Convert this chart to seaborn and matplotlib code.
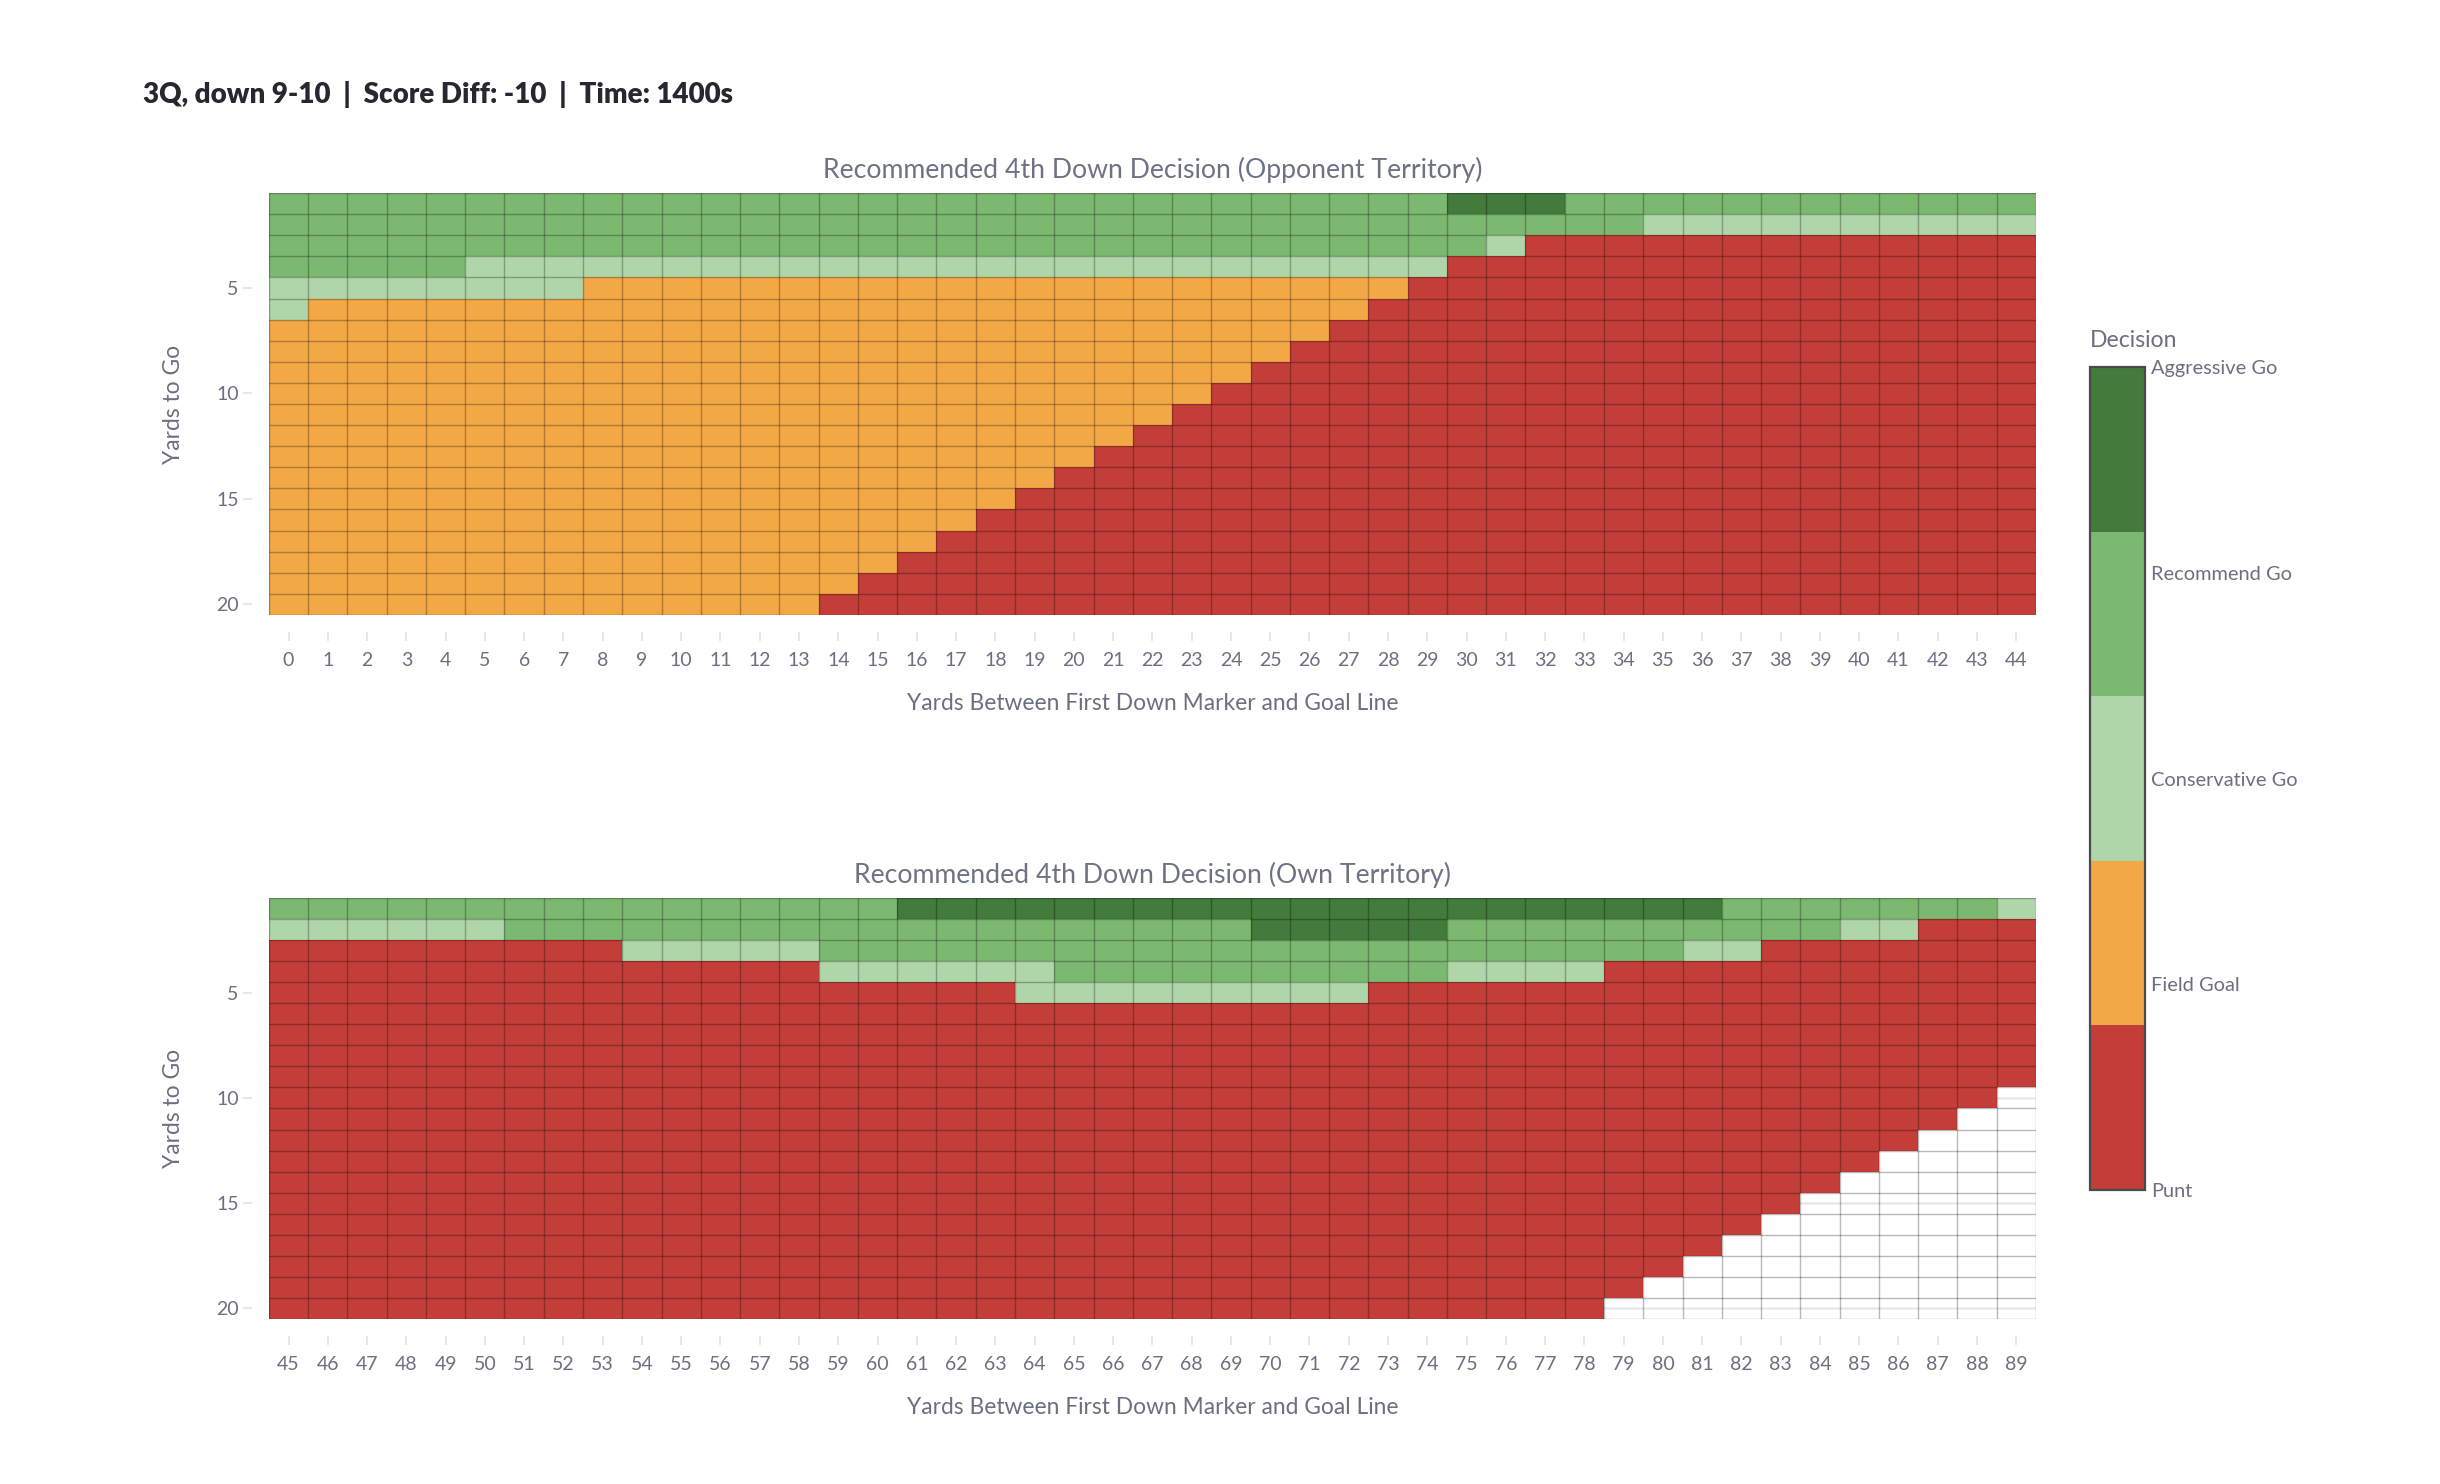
import matplotlib
matplotlib.use('Agg')
import matplotlib.pyplot as plt
from matplotlib.colors import ListedColormap
import numpy as np
import pandas as pd
import seaborn as sns

# Decision codes, one string per "yards to go" row
# P = Punt, F = Field Goal, C = Conservative Go, R = Recommend Go, A = Aggressive Go, . = no value
decision_names = ['Punt', 'Field Goal', 'Conservative Go', 'Recommend Go', 'Aggressive Go']
decision_codes = ['P', 'F', 'C', 'R', 'A']
decision_colors = ['#c33e38', '#f2a845', '#afd6a8', '#7bb870', '#427b3b']

yards_to_go = list(range(1, 21))
opp_yards = list(range(0, 45))
own_yards = list(range(45, 90))

opp_rows = [
    'R' * 30 + 'A' * 3 + 'R' * 12,
    'R' * 35 + 'C' * 10,
    'R' * 31 + 'C' * 1 + 'P' * 13,
    'R' * 5 + 'C' * 25 + 'P' * 15,
    'C' * 8 + 'F' * 21 + 'P' * 16,
    'C' * 1 + 'F' * 27 + 'P' * 17,
    'F' * 27 + 'P' * 18,
    'F' * 26 + 'P' * 19,
    'F' * 25 + 'P' * 20,
    'F' * 24 + 'P' * 21,
    'F' * 23 + 'P' * 22,
    'F' * 22 + 'P' * 23,
    'F' * 21 + 'P' * 24,
    'F' * 20 + 'P' * 25,
    'F' * 19 + 'P' * 26,
    'F' * 18 + 'P' * 27,
    'F' * 17 + 'P' * 28,
    'F' * 16 + 'P' * 29,
    'F' * 15 + 'P' * 30,
    'F' * 14 + 'P' * 31,
]

own_rows = [
    'R' * 16 + 'A' * 21 + 'R' * 7 + 'C' * 1,
    'C' * 6 + 'R' * 19 + 'A' * 5 + 'R' * 10 + 'C' * 2 + 'P' * 3,
    'P' * 9 + 'C' * 5 + 'R' * 22 + 'C' * 2 + 'P' * 7,
    'P' * 14 + 'C' * 6 + 'R' * 10 + 'C' * 4 + 'P' * 11,
    'P' * 19 + 'C' * 9 + 'P' * 17,
    'P' * 45,
    'P' * 45,
    'P' * 45,
    'P' * 45,
    'P' * 44 + '.' * 1,
    'P' * 43 + '.' * 2,
    'P' * 42 + '.' * 3,
    'P' * 41 + '.' * 4,
    'P' * 40 + '.' * 5,
    'P' * 39 + '.' * 6,
    'P' * 38 + '.' * 7,
    'P' * 37 + '.' * 8,
    'P' * 36 + '.' * 9,
    'P' * 35 + '.' * 10,
    'P' * 34 + '.' * 11,
]

title_text = '3Q, down 9-10  |  Score Diff: -10  |  Time: 1400s'


def rows_to_frame(rows, cols):
    """Turn the code strings into a numeric frame (NaN for empty cells)"""
    lookup = {c: i for i, c in enumerate(decision_codes)}
    values = [[lookup.get(ch, np.nan) for ch in row] for row in rows]
    return pd.DataFrame(values, index=yards_to_go, columns=cols, dtype=float)


opp_df = rows_to_frame(opp_rows, opp_yards)
own_df = rows_to_frame(own_rows, own_yards)

sns.set_theme(style='white')
plt.rcParams['font.family'] = ['Lato', 'DejaVu Sans']

TEXT_GREY = '#6c6f80'
TICK_GREY = '#dfe3ea'

fig = plt.figure(figsize=(12.2, 7.42), dpi=200)
ax_top = fig.add_axes([0.1102, 0.5856, 0.7242, 0.2843])
ax_bot = fig.add_axes([0.1102, 0.1112, 0.7242, 0.2837])
cax = fig.add_axes([0.8566, 0.1981, 0.0225, 0.5546])

cmap = ListedColormap(decision_colors)

panels = [
    (ax_top, opp_df, 'Recommended 4th Down Decision (Opponent Territory)'),
    (ax_bot, own_df, 'Recommended 4th Down Decision (Own Territory)'),
]

for i, (ax, df, title) in enumerate(panels):
    ax.set_axisbelow(True)
    sns.heatmap(df, ax=ax, cmap=cmap, vmin=0, vmax=4,
                cbar=(i == 0), cbar_ax=cax if i == 0 else None,
                linewidths=0, square=False)

    n_rows, n_cols = df.shape
    # faint gridlines at the y ticks (only visible where cells are empty)
    for yv in [10, 15, 20]:
        ax.axhline(yards_to_go.index(yv) + 0.5, color='#e6ebf2', lw=0.9, zorder=0.5)
    # cell borders
    ax.hlines(np.arange(n_rows + 1), 0, n_cols, colors=[(0, 0, 0, 0.27)], lw=0.5, zorder=3)
    ax.vlines(np.arange(n_cols + 1), 0, n_rows, colors=[(0, 0, 0, 0.27)], lw=0.5, zorder=3)

    ax.set_xticks(np.arange(n_cols) + 0.5)
    ax.set_xticklabels([str(c) for c in df.columns], rotation=0)
    ytick_vals = [5, 10, 15, 20]
    ax.set_yticks([yards_to_go.index(v) + 0.5 for v in ytick_vals])
    ax.set_yticklabels([str(v) for v in ytick_vals], rotation=0)

    for side in ['top', 'right', 'bottom', 'left']:
        ax.spines[side].set_visible(False)
    ax.spines['bottom'].set_position(('outward', 6.1))
    ax.spines['left'].set_position(('outward', 6.1))
    ax.tick_params(axis='x', bottom=True, length=3.2, width=0.6, color=TICK_GREY,
                   pad=4.0, labelsize=7.0, labelcolor=TEXT_GREY)
    ax.tick_params(axis='y', left=True, length=3.2, width=0.6, color=TICK_GREY,
                   pad=1.6, labelsize=7.0, labelcolor=TEXT_GREY)

    ax.set_xlabel('Yards Between First Down Marker and Goal Line', fontsize=8.2, color=TEXT_GREY)
    ax.xaxis.set_label_coords(0.5, -0.21)
    ax.xaxis.label.set_va('center')
    ax.set_ylabel('Yards to Go', fontsize=8.2, color=TEXT_GREY)
    ax.yaxis.set_label_coords(-0.054, 0.5)
    ax.yaxis.label.set_va('center')

    ax.text(0.5, 1.055, title, transform=ax.transAxes, ha='center', va='center',
            fontsize=9.6, color='#6e7285')

# Colorbar styling
cbar = ax_top.collections[0].colorbar
cbar.set_ticks([0, 1, 2, 3, 4])
cbar.set_ticklabels(decision_names)
cbar.ax.tick_params(length=0, pad=2.2, labelsize=7.2, labelcolor=TEXT_GREY)
cbar.outline.set_edgecolor('#4a4a4a')
cbar.outline.set_linewidth(0.8)
cbar.outline.set_visible(True)
cax.text(0.0, 1.024, 'Decision', transform=cax.transAxes, ha='left', va='baseline',
         fontsize=8.3, color=TEXT_GREY)

fig.text(0.0586, 1 - 103 / 1484, title_text, ha='left', va='baseline',
         fontsize=10, fontweight='heavy', color='#262730')

fig.savefig('out.png', dpi=200)
